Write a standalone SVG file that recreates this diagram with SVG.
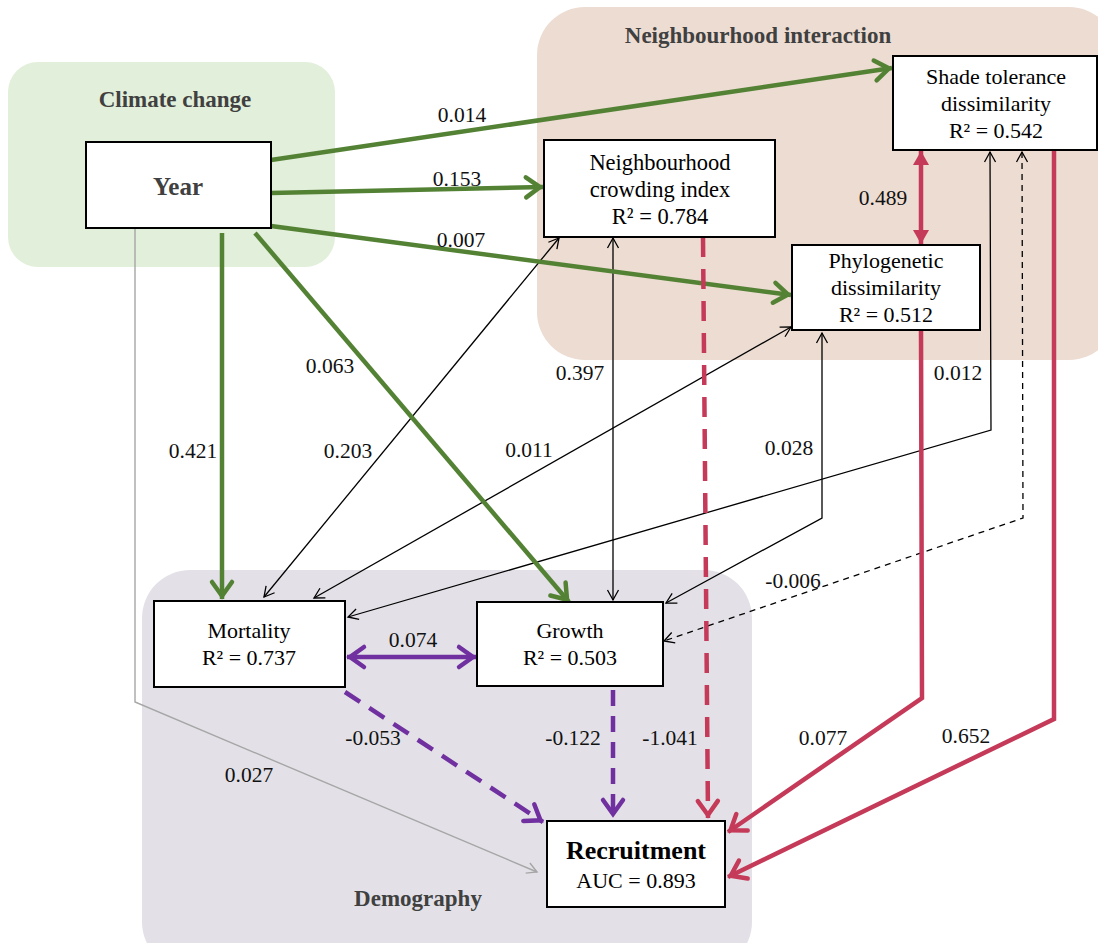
<svg xmlns="http://www.w3.org/2000/svg" width="1098" height="943" viewBox="0 0 1098 943">
<style>
text{font-family:'Liberation Serif','DejaVu Serif','Noto Serif',serif}
.node{fill:#fff;stroke:#000;stroke-width:2}
.t{font-size:22px;fill:#000;text-anchor:middle}
.tb{font-weight:bold;text-anchor:middle}
.title{font-weight:bold;font-size:23px;fill:#404040;text-anchor:middle}
.lbl{font-size:21.5px;fill:#111;text-anchor:middle}
.g{fill:none;stroke:#548235;stroke-width:4.5}
.r{fill:none;stroke:#c43a58;stroke-width:4.5}
.p{fill:none;stroke:#7030a0;stroke-width:4.5}
.k{fill:none;stroke:#000;stroke-width:1.3}
.gr{fill:none;stroke:#a6a6a6;stroke-width:1.4}
</style>
<defs>
<marker id="ag" viewBox="-20 -14 24 28" refX="0" refY="0" markerWidth="24" markerHeight="28" markerUnits="userSpaceOnUse" orient="auto-start-reverse" overflow="visible">
<path d="M-17,-10 L-3,0 L-17,10" fill="none" stroke="#548235" stroke-width="4.5" stroke-linecap="round"/>
</marker>
<marker id="ar" viewBox="-20 -14 24 28" refX="0" refY="0" markerWidth="24" markerHeight="28" markerUnits="userSpaceOnUse" orient="auto-start-reverse" overflow="visible">
<path d="M-17,-10 L-3,0 L-17,10" fill="none" stroke="#c43a58" stroke-width="4.5" stroke-linecap="round"/>
</marker>
<marker id="ap" viewBox="-20 -14 24 28" refX="0" refY="0" markerWidth="24" markerHeight="28" markerUnits="userSpaceOnUse" orient="auto-start-reverse" overflow="visible">
<path d="M-17,-10 L-3,0 L-17,10" fill="none" stroke="#7030a0" stroke-width="4.5" stroke-linecap="round"/>
</marker>
<marker id="art" viewBox="-16 -10 18 20" refX="0" refY="0" markerWidth="18" markerHeight="20" markerUnits="userSpaceOnUse" orient="auto-start-reverse" overflow="visible">
<path d="M-14,-8 L0,0 L-14,8 Z" fill="#c43a58"/>
</marker>
<marker id="ak" viewBox="-12 -8 14 16" refX="0" refY="0" markerWidth="14" markerHeight="16" markerUnits="userSpaceOnUse" orient="auto-start-reverse" overflow="visible">
<path d="M-10,-5.5 L0,0 L-10,5.5" fill="none" stroke="#000" stroke-width="1.3"/>
</marker>
<marker id="agr" viewBox="-12 -8 14 16" refX="0" refY="0" markerWidth="14" markerHeight="16" markerUnits="userSpaceOnUse" orient="auto-start-reverse" overflow="visible">
<path d="M-10,-5.5 L0,0 L-10,5.5" fill="none" stroke="#a6a6a6" stroke-width="1.4"/>
</marker>
</defs>

<g id="group-climate">
<rect x="8" y="62" width="327" height="205" rx="30" fill="#e2efda"/>
<text class="title" x="175" y="107">Climate change</text>
</g>
<g id="group-neighbourhood">
<rect x="537" y="7" width="580" height="353" rx="48" fill="#ecdcd2"/>
<text class="title" x="758" y="43">Neighbourhood interaction</text>
</g>
<g id="group-demography">
<rect x="142" y="570" width="610" height="400" rx="48" fill="#e3e1e7"/>
<text class="title" x="418" y="906">Demography</text>
</g>

<g id="connectors">
<polyline class="gr" points="135,228 135,702 537,872" marker-end="url(#agr)"/>
<line class="k" x1="559" y1="238" x2="264" y2="597" marker-start="url(#ak)" marker-end="url(#ak)"/>
<line class="k" x1="791" y1="327" x2="314" y2="598" marker-start="url(#ak)" marker-end="url(#ak)"/>
<line class="k" x1="613" y1="238" x2="613" y2="600" marker-start="url(#ak)" marker-end="url(#ak)"/>
<polyline class="k" points="822,333 822,518 666,603" marker-start="url(#ak)" marker-end="url(#ak)"/>
<polyline class="k" points="990,152 991,430 348,617" marker-start="url(#ak)" marker-end="url(#ak)"/>
<polyline class="k" points="1022,152 1023,518 664,641" stroke-dasharray="6 5" marker-start="url(#ak)" marker-end="url(#ak)"/>
<line class="g" x1="271" y1="160" x2="892" y2="68" marker-end="url(#ag)"/>
<line class="g" x1="271" y1="193" x2="543" y2="187" marker-end="url(#ag)"/>
<line class="g" x1="271" y1="226" x2="791" y2="295" marker-end="url(#ag)"/>
<line class="g" x1="222" y1="233" x2="222" y2="599" marker-end="url(#ag)"/>
<line class="g" x1="255" y1="233" x2="569" y2="602" marker-end="url(#ag)"/>
<line class="r" x1="921" y1="151" x2="921" y2="244" marker-start="url(#art)" marker-end="url(#art)"/>
<line class="r" x1="703" y1="237" x2="708" y2="818" stroke-dasharray="20 12" marker-end="url(#ar)"/>
<polyline class="r" points="921,330 922,698 728,832" marker-end="url(#ar)"/>
<polyline class="r" points="1054,150 1054,719 728,877" marker-end="url(#ar)"/>
<line class="p" x1="347" y1="657" x2="476" y2="657" marker-start="url(#ap)" marker-end="url(#ap)"/>
<line class="p" x1="345" y1="692" x2="543" y2="822" stroke-dasharray="18 11" marker-end="url(#ap)"/>
<line class="p" x1="613" y1="690" x2="613" y2="817" stroke-dasharray="16 10" marker-end="url(#ap)"/>
<text class="lbl" x="462" y="122">0.014</text>
<text class="lbl" x="457" y="186">0.153</text>
<text class="lbl" x="461" y="247">0.007</text>
<text class="lbl" x="883" y="205">0.489</text>
<text class="lbl" x="330" y="373">0.063</text>
<text class="lbl" x="580" y="380">0.397</text>
<text class="lbl" x="958" y="380">0.012</text>
<text class="lbl" x="193" y="458">0.421</text>
<text class="lbl" x="348" y="458">0.203</text>
<text class="lbl" x="529" y="457">0.011</text>
<text class="lbl" x="789" y="455">0.028</text>
<text class="lbl" x="793" y="588">-0.006</text>
<text class="lbl" x="413" y="647">0.074</text>
<text class="lbl" x="373" y="745">-0.053</text>
<text class="lbl" x="573" y="745">-0.122</text>
<text class="lbl" x="670" y="745">-1.041</text>
<text class="lbl" x="823" y="745">0.077</text>
<text class="lbl" x="966" y="743">0.652</text>
<text class="lbl" x="249" y="782">0.027</text>
</g>

<g id="node-year">
<rect class="node" x="86" y="142" width="185" height="86"/>
<text class="tb" x="178" y="195" font-size="25" fill="#404040">Year</text>
</g>
<g id="node-nci">
<rect class="node" x="544" y="140" width="231" height="97"/>
<text class="t" x="660" y="170" style="font-size:22.5px">Neighbourhood</text>
<text class="t" x="660" y="197" style="font-size:22.5px">crowding index</text>
<text class="t" x="660" y="224" style="font-size:22.5px">R² = 0.784</text>
</g>
<g id="node-shade">
<rect class="node" x="893" y="56" width="204" height="94"/>
<text class="t" x="996" y="84">Shade tolerance</text>
<text class="t" x="996" y="111">dissimilarity</text>
<text class="t" x="996" y="138">R² = 0.542</text>
</g>
<g id="node-phylo">
<rect class="node" x="792" y="245" width="188" height="85"/>
<text class="t" x="886" y="268">Phylogenetic</text>
<text class="t" x="886" y="295">dissimilarity</text>
<text class="t" x="886" y="322">R² = 0.512</text>
</g>
<g id="node-mortality">
<rect class="node" x="154" y="601" width="191" height="86"/>
<text class="t" x="249" y="638">Mortality</text>
<text class="t" x="249" y="665">R² = 0.737</text>
</g>
<g id="node-growth">
<rect class="node" x="477" y="602" width="186" height="84"/>
<text class="t" x="570" y="638">Growth</text>
<text class="t" x="570" y="665">R² = 0.503</text>
</g>
<g id="node-recruitment">
<rect class="node" x="547" y="821" width="178" height="86"/>
<text class="tb" x="636" y="859" font-size="26" fill="#000">Recruitment</text>
<text class="t" x="636" y="888">AUC = 0.893</text>
</g>
</svg>
